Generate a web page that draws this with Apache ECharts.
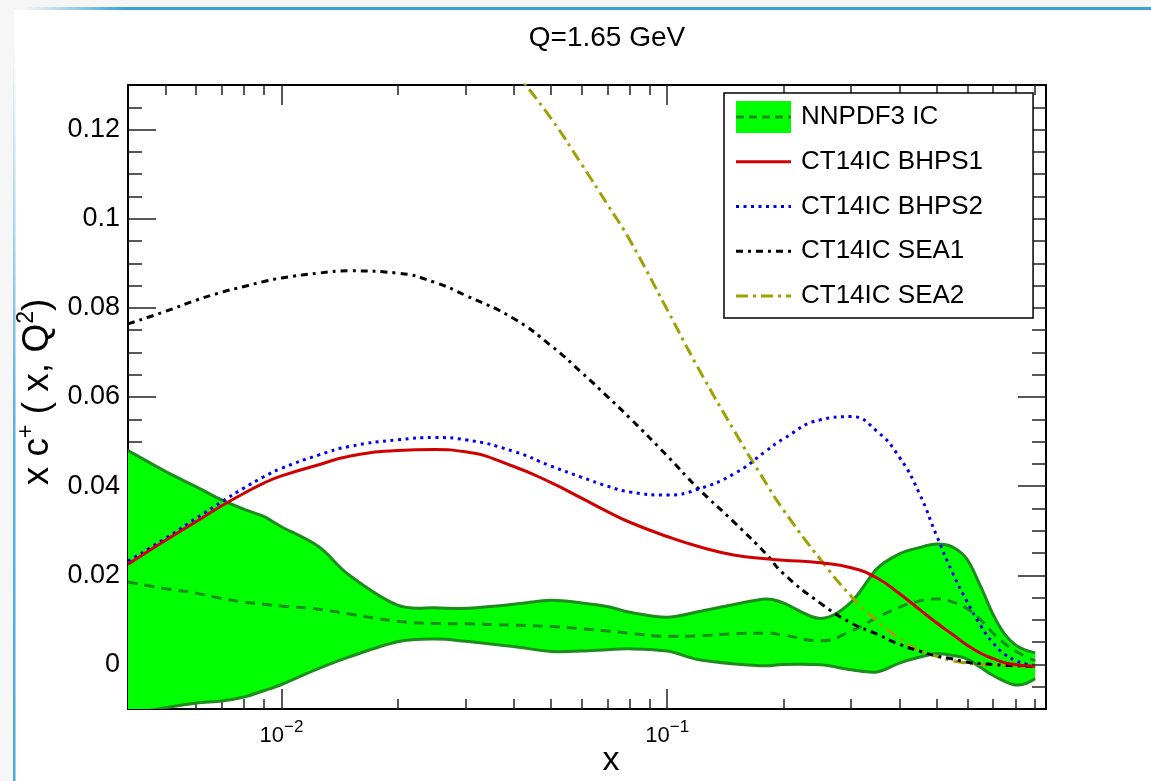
<!DOCTYPE html>
<html>
<head>
<meta charset="utf-8">
<script src="https://cdn.jsdelivr.net/npm/echarts@6.0.0/dist/echarts.min.js"></script>
<style>
html,body{margin:0;padding:0;background:#f6f6f6;}
#chart{width:1151px;height:781px;}
</style>
</head>
<body>
<div id="chart"></div>
<script>
// ---------------- data ----------------
const xs = [0.004, 0.005, 0.006, 0.007, 0.008, 0.009, 0.01, 0.0125, 0.015, 0.02, 0.025, 0.03,
            0.04, 0.05, 0.06, 0.07, 0.08, 0.1, 0.12, 0.15, 0.18, 0.2, 0.25, 0.3, 0.35,
            0.4, 0.45, 0.5, 0.55, 0.6, 0.65, 0.7, 0.75, 0.8, 0.85, 0.9];

const nnpdfCentral = [0.0185, 0.0170, 0.0160, 0.0148, 0.0140, 0.0135, 0.0131, 0.0124, 0.0113, 0.0097, 0.0092, 0.0091,
                      0.0088, 0.0085, 0.0080, 0.0075, 0.0070, 0.0063, 0.0064, 0.0069, 0.0070, 0.0066, 0.0053, 0.0075, 0.0105,
                      0.0128, 0.0142, 0.0147, 0.0140, 0.0125, 0.0100, 0.0070, 0.0047, 0.0030, 0.0018, 0.0008];
const nnpdfUpper = [0.0480, 0.0433, 0.0399, 0.0369, 0.0348, 0.0332, 0.0309, 0.0264, 0.0200, 0.0133, 0.0127, 0.0126,
                    0.0135, 0.0144, 0.0138, 0.0130, 0.0117, 0.0106, 0.0118, 0.0135, 0.0147, 0.0138, 0.0103, 0.0140, 0.0215,
                    0.0248, 0.0262, 0.0270, 0.0263, 0.0235, 0.0175, 0.0112, 0.0068, 0.0044, 0.0032, 0.0026];
const nnpdfLower = [-0.0112, -0.0097, -0.0087, -0.0082, -0.0073, -0.0059, -0.0045, -0.0009, 0.0017, 0.0051, 0.0057, 0.0052,
                    0.0040, 0.0029, 0.0030, 0.0033, 0.0035, 0.0030, 0.0011, 0.0001, -0.0003, 0.0000, -0.0001, -0.0012, -0.0017,
                    0.0003, 0.0016, 0.0024, 0.0020, 0.0012, -0.0007, -0.0025, -0.0038, -0.0046, -0.0043, -0.0032];
const bhps1 = [0.0225, 0.0278, 0.0320, 0.0356, 0.0384, 0.0407, 0.0423, 0.0448, 0.0467, 0.0480, 0.0482, 0.0477,
               0.0444, 0.0408, 0.0373, 0.0343, 0.0319, 0.0287, 0.0265, 0.0245, 0.0237, 0.0234, 0.0228, 0.0217, 0.0194,
               0.0159, 0.0124, 0.0093, 0.0067, 0.0043, 0.0025, 0.0013, 0.0004, 0.0000, -0.0003, -0.0004];
const bhps2 = [0.0232, 0.0283, 0.0328, 0.0365, 0.0396, 0.0421, 0.0440, 0.0470, 0.0489, 0.0504, 0.0509, 0.0504,
               0.0478, 0.0445, 0.0420, 0.0400, 0.0387, 0.0380, 0.0393, 0.0429, 0.0478, 0.0506, 0.0549, 0.0556, 0.0523,
               0.0465, 0.0385, 0.0288, 0.0205, 0.0140, 0.0087, 0.0048, 0.0023, 0.0009, 0.0001, -0.0003];
const sea1 = [0.0764, 0.0792, 0.0817, 0.0835, 0.0848, 0.0859, 0.0867, 0.0878, 0.0883, 0.0878, 0.0857, 0.0828,
              0.0776, 0.0715, 0.0655, 0.0601, 0.0553, 0.0468, 0.0396, 0.0317, 0.0249, 0.0204, 0.0137, 0.0093, 0.0068,
              0.0045, 0.0030, 0.0019, 0.0012, 0.0005, 0.0002, 0.0000, -0.0002, -0.0003, -0.0004, -0.0005];
const sea2 = [null, null, null, null, null, null, null, null, null, null, null, null,
              0.1334, 0.1225, 0.1122, 0.1032, 0.0952, 0.0796, 0.0667, 0.0521, 0.0408, 0.0347, 0.0235, 0.0153, 0.0098,
              0.0058, 0.0032, 0.0018, 0.0008, 0.0003, 0.0000, -0.0001, -0.0003, -0.0004, -0.0005, -0.0005];

const seriesNames = ['NNPDF3 IC', 'CT14IC BHPS1', 'CT14IC BHPS2', 'CT14IC SEA1', 'CT14IC SEA2'];

const xMajorTicks = [0.01, 0.1];
const xMinorTicks = [0.005, 0.006, 0.007, 0.008, 0.009, 0.02, 0.03, 0.04, 0.05, 0.06, 0.07, 0.08, 0.09,
                     0.2, 0.3, 0.4, 0.5, 0.6, 0.7, 0.8, 0.9];
const yMajorTicks = [0, 0.02, 0.04, 0.06, 0.08, 0.1, 0.12];
const yMinorTicks = [-0.005, 0.005, 0.01, 0.015, 0.025, 0.03, 0.035, 0.045, 0.05, 0.055, 0.065, 0.07, 0.075,
                     0.085, 0.09, 0.095, 0.105, 0.11, 0.115, 0.125];

// ---------------- styling ----------------
const FONT = '"Liberation Sans", Arial, Helvetica, sans-serif';
const DARKGREEN = '#1c8c1c';
const FILLGREEN = '#00ff00';
const RED = '#d00000';
const BLUE = '#0000ee';
const BLACK = '#000000';
const OLIVE = '#a0a000';

const DASH_CENTRAL = [10, 7];
const DASH_DOT = [3, 4.5];
const DASH_SEA1 = [7, 5, 3, 5];
const DASH_SEA2 = [12, 5, 3, 5];

function pairs(arr) {
  return xs.map((x, i) => [x, arr[i]]).filter(p => p[1] !== null);
}
function svgIcon(inner) {
  const svg = '<svg xmlns="http://www.w3.org/2000/svg" width="60" height="32" viewBox="0 0 60 32">' + inner + '</svg>';
  return 'image://data:image/svg+xml;charset=utf-8,' + encodeURIComponent(svg);
}
function lineIcon(color, dash) {
  return svgIcon('<line x1="0" y1="16" x2="55" y2="16" stroke="' + color + '" stroke-width="3"' +
    (dash ? ' stroke-dasharray="' + dash.join(',') + '"' : '') + '/>');
}
const icons = [
  svgIcon('<rect x="0" y="0" width="55" height="32" fill="' + FILLGREEN + '"/>' +
          '<line x1="0" y1="16" x2="55" y2="16" stroke="' + DARKGREEN + '" stroke-width="3" stroke-dasharray="8,5"/>'),
  lineIcon(RED, null),
  lineIcon(BLUE, DASH_DOT),
  lineIcon(BLACK, DASH_SEA1),
  lineIcon(OLIVE, DASH_SEA2)
];

function expLabel(v) {
  const e = Math.round(Math.log10(v));
  return '{b|10}{s|' + (e < 0 ? '\u2212' + (-e) : e) + '}';
}

const tickLine = {color: '#222', width: 1.5};
const frameLine = {color: '#000', width: 2};

function xAxisDef(position, ticks, len, showLine, showLabel) {
  return {
    type: 'log', logBase: 10, min: 0.004, max: 0.96, position: position,
    axisLine: {show: showLine, onZero: false, lineStyle: frameLine},
    axisTick: {show: true, inside: true, length: len, customValues: ticks, lineStyle: tickLine},
    axisLabel: showLabel ? {
      show: true, customValues: ticks, margin: 10, formatter: expLabel, color: '#000',
      rich: {
        b: {fontSize: 22, fontFamily: FONT, color: '#000', lineHeight: 34},
        s: {fontSize: 17, fontFamily: FONT, color: '#000', lineHeight: 17, verticalAlign: 'top'}
      }
    } : {show: false},
    splitLine: {show: false}, minorTick: {show: false}, minorSplitLine: {show: false}
  };
}
function yAxisDef(position, ticks, len, showLine, showLabel) {
  return {
    type: 'value', min: -0.01, max: 0.13, position: position,
    axisLine: {show: showLine, onZero: false, lineStyle: frameLine},
    axisTick: {show: true, inside: true, length: len, customValues: ticks, lineStyle: tickLine},
    axisLabel: showLabel ? {
      show: true, customValues: ticks, margin: 8, color: '#000', fontSize: 27, fontFamily: FONT
    } : {show: false},
    splitLine: {show: false}
  };
}

function lineSeries(name, data, color, dash, z) {
  return {
    name: name, type: 'line', data: pairs(data), smooth: true, symbol: 'none', showSymbol: false,
    lineStyle: {color: color, width: 3, type: dash || 'solid', cap: 'butt'},
    itemStyle: {color: color}, z: z, clip: true, silent: true
  };
}

// Catmull-Rom spline through pixel points (drawing helper for the uncertainty band)
function smoothPath(pts, move) {
  let d = (move ? 'M' : 'L') + pts[0][0].toFixed(2) + ' ' + pts[0][1].toFixed(2);
  const n = pts.length;
  for (let i = 0; i < n - 1; i++) {
    const p0 = pts[Math.max(i - 1, 0)], p1 = pts[i], p2 = pts[i + 1], p3 = pts[Math.min(i + 2, n - 1)];
    const c1x = p1[0] + (p2[0] - p0[0]) / 6, c1y = p1[1] + (p2[1] - p0[1]) / 6;
    const c2x = p2[0] - (p3[0] - p1[0]) / 6, c2y = p2[1] - (p3[1] - p1[1]) / 6;
    d += ' C' + c1x.toFixed(2) + ' ' + c1y.toFixed(2) + ' ' + c2x.toFixed(2) + ' ' + c2y.toFixed(2) +
         ' ' + p2[0].toFixed(2) + ' ' + p2[1].toFixed(2);
  }
  return d;
}

function renderBand(params, api) {
  if (params.dataIndex !== 0) return null;
  const up = xs.map((x, i) => api.coord([x, nnpdfUpper[i]]));
  const lo = xs.map((x, i) => api.coord([x, nnpdfLower[i]]));
  const upD = smoothPath(up, true);
  const loD = smoothPath(lo, true);
  const fillD = upD + ' ' + smoothPath(lo.slice().reverse(), false) + ' Z';
  const cs = params.coordSys;
  return {
    type: 'group',
    clipPath: {type: 'rect', shape: {x: cs.x, y: cs.y, width: cs.width, height: cs.height}},
    children: [
      {type: 'path', shape: {pathData: fillD}, style: {fill: FILLGREEN, stroke: 'none'}},
      {type: 'path', shape: {pathData: upD}, style: {fill: 'none', stroke: DARKGREEN, lineWidth: 3}},
      {type: 'path', shape: {pathData: loD}, style: {fill: 'none', stroke: DARKGREEN, lineWidth: 3}}
    ]
  };
}

const option = {
  animation: false,
  backgroundColor: '#f6f6f6',
  grid: {left: 128, right: 105, top: 85, bottom: 72, show: false},
  xAxis: [
    xAxisDef('bottom', xMajorTicks, 20, true, true),
    xAxisDef('bottom', xMinorTicks, 10, false, false),
    xAxisDef('top', xMajorTicks, 20, true, false),
    xAxisDef('top', xMinorTicks, 10, false, false)
  ],
  yAxis: [
    yAxisDef('left', yMajorTicks, 28, true, true),
    yAxisDef('left', yMinorTicks, 14, false, false),
    yAxisDef('right', yMajorTicks, 28, true, false),
    yAxisDef('right', yMinorTicks, 14, false, false)
  ],
  legend: {
    orient: 'vertical', left: 724, top: 93,
    padding: [8, 50, 6, 12], itemWidth: 60, itemHeight: 32, itemGap: 12.75,
    backgroundColor: '#ffffff', borderColor: '#000', borderWidth: 1.5, borderRadius: 0,
    selectedMode: false, symbolKeepAspect: true,
    textStyle: {fontSize: 26, fontFamily: FONT, color: '#000', lineHeight: 32},
    data: seriesNames.map((n, i) => ({name: n, icon: icons[i]}))
  },
  series: [
    {
      name: 'NNPDF3 IC band', type: 'custom', renderItem: renderBand,
      data: xs.map((x, i) => [x, nnpdfLower[i], nnpdfUpper[i]]),
      encode: {x: 0, y: [1, 2]}, z: 2, silent: true
    },
    lineSeries(seriesNames[0], nnpdfCentral, DARKGREEN, DASH_CENTRAL, 4),
    lineSeries(seriesNames[4], sea2, OLIVE, DASH_SEA2, 5),
    lineSeries(seriesNames[3], sea1, BLACK, DASH_SEA1, 5),
    lineSeries(seriesNames[2], bhps2, BLUE, DASH_DOT, 6),
    lineSeries(seriesNames[1], bhps1, RED, null, 7)
  ],
  graphic: [
    {type: 'rect', z: -10, shape: {x: 14, y: 10, width: 1137, height: 771}, style: {fill: '#ffffff'}, silent: true},
    {type: 'rect', z: -9, shape: {x: 25, y: 7, width: 1126, height: 3}, silent: true,
     style: {fill: new echarts.graphic.LinearGradient(0, 0, 1, 0, [
       {offset: 0, color: 'rgba(56,162,217,0)'}, {offset: 0.09, color: 'rgba(56,162,217,1)'}, {offset: 1, color: 'rgba(56,162,217,1)'}])}},
    {type: 'rect', z: -9, shape: {x: 13, y: 40, width: 2.5, height: 741}, silent: true,
     style: {fill: new echarts.graphic.LinearGradient(0, 0, 0, 1, [
       {offset: 0, color: 'rgba(74,168,220,0)'}, {offset: 0.5, color: 'rgba(74,168,220,0.9)'}, {offset: 1, color: 'rgba(74,168,220,1)'}])}},
    {type: 'text', z: 20, x: 607, y: 38, silent: true,
     style: {text: 'Q=1.65 GeV', fontSize: 28, fontFamily: FONT, fill: '#000',
             align: 'center', verticalAlign: 'middle', textAlign: 'center', textVerticalAlign: 'middle'}},
    {type: 'text', z: 20, x: 611, y: 761, silent: true,
     style: {text: 'x', fontSize: 34, fontFamily: FONT, fill: '#000',
             align: 'center', verticalAlign: 'middle', textAlign: 'center', textVerticalAlign: 'middle'}},
    {type: 'text', z: 20, x: 38, y: 392, rotation: Math.PI / 2, silent: true,
     style: {text: 'x c{s|+} ( x, Q{s|2})', fontSize: 37, fontFamily: FONT, fill: '#000', lineHeight: 46,
             align: 'center', verticalAlign: 'middle', textAlign: 'center', textVerticalAlign: 'middle',
             rich: {s: {fontSize: 23, fontFamily: FONT, fill: '#000', color: '#000', lineHeight: 23, verticalAlign: 'top'}}}}
  ]
};

const chart = echarts.init(document.getElementById('chart'), null, {renderer: 'canvas', width: 1151, height: 781});
chart.setOption(option);
</script>
</body>
</html>
